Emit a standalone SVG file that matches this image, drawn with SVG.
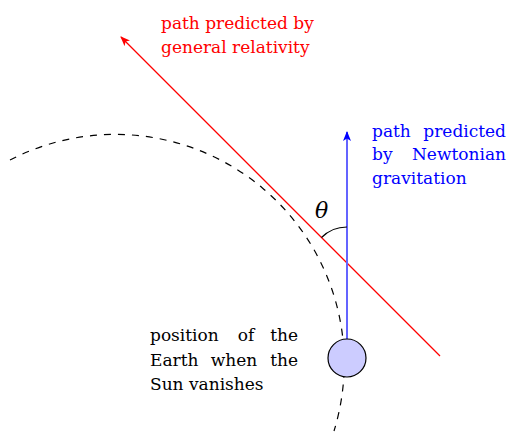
<svg xmlns="http://www.w3.org/2000/svg" width="508" height="432" viewBox="0 0 508 432">
<style>
text{font-family:"DejaVu Serif","Liberation Serif",serif;font-size:17px}
.red{fill:#ff0000}
.blue{fill:#0000ff}
.blk{fill:#000}
.e{text-anchor:end}
.m{text-anchor:middle}
</style>
<defs>
<marker id="ahRed" viewBox="0 0 10 8" refX="9" refY="4" markerWidth="10" markerHeight="8" markerUnits="userSpaceOnUse" orient="auto">
<path d="M0,0 L10,4 L0,8 L2.5,4 Z" fill="#ff0000"/>
</marker>
<marker id="ahBlue" viewBox="0 0 10 8" refX="9" refY="4" markerWidth="10" markerHeight="8" markerUnits="userSpaceOnUse" orient="auto">
<path d="M0,0 L10,4 L0,8 L2.5,4 Z" fill="#0000ff"/>
</marker>
</defs>
<g id="orbit">
<path d="M10,160 A229,229 0 0 1 334,431" fill="none" stroke="#000" stroke-width="1.2" stroke-dasharray="7 7"/>
</g>
<g id="connectors">
<line x1="440" y1="356" x2="121" y2="37" stroke="#ff0000" stroke-width="1.2" marker-end="url(#ahRed)"/>
<line x1="347" y1="339" x2="347" y2="132" stroke="#6464ff" stroke-width="2" marker-end="url(#ahBlue)"/>
<path d="M347,227 A36,36 0 0 0 321.5,237.5" fill="none" stroke="#000" stroke-width="1.2"/>
</g>
<g id="earth">
<circle cx="347" cy="358" r="19" fill="#ccccff" stroke="#000" stroke-width="1.2"/>
</g>
<g id="theta">
<text x="315" y="218" style="font-style:italic;font-size:22px" class="blk">θ</text>
</g>
<g id="label-gr">
<text class="red" x="161" y="29">path predicted by</text>
<text class="red" x="161" y="53">general relativity</text>
</g>
<g id="label-newton">
<text class="blue" x="372" y="137">path</text>
<text class="blue e" x="506" y="137">predicted</text>
<text class="blue" x="372" y="160">by</text>
<text class="blue e" x="506" y="160">Newtonian</text>
<text class="blue" x="372" y="184">gravitation</text>
</g>
<g id="label-earth">
<text class="blk" x="150" y="341">position</text>
<text class="blk m" x="246" y="341">of</text>
<text class="blk e" x="298" y="341">the</text>
<text class="blk" x="150" y="366">Earth</text>
<text class="blk m" x="234" y="366">when</text>
<text class="blk e" x="298" y="366">the</text>
<text class="blk" x="150" y="390">Sun vanishes</text>
</g>
</svg>
